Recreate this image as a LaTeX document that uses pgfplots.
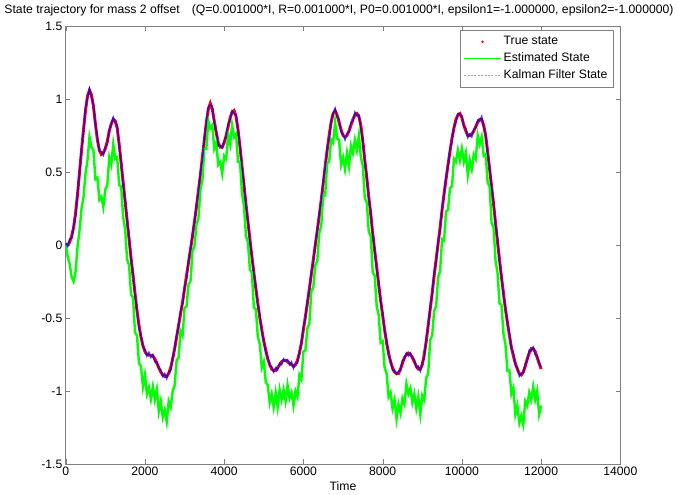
\documentclass[border=0pt]{standalone}
\usepackage{fontspec}
\setmainfont{Liberation Sans}
\usepackage{pgfplots}
\usepackage{pgfplotstable}
\pgfplotsset{compat=1.18}
\definecolor{kflight}{rgb}{0.6,0.6,1}

% x, true state, Kalman filter state, estimated state
\pgfplotstableread{
x t k e
0 0.00 0.015 0.01
50 0.00 -0.01 -0.08
100 0.02 0.04 -0.13
150 0.06 0.045 -0.22
200 0.12 0.13 -0.25
250 0.22 0.20 -0.18
300 0.35 0.36 -0.01
350 0.50 0.495 0.10
400 0.65 0.665 0.25
450 0.79 0.78 0.33
500 0.92 0.94 0.49
550 1.02 1.005 0.58
600 1.06 1.07 0.74
650 1.03 1.01 0.67
700 0.95 0.96 0.65
750 0.83 0.825 0.45
800 0.72 0.735 0.46
850 0.65 0.64 0.31
900 0.62 0.64 0.33
950 0.63 0.615 0.26
1000 0.66 0.67 0.38
1050 0.71 0.69 0.41
1100 0.78 0.79 0.60
1150 0.83 0.825 0.55
1200 0.86 0.875 0.69
1250 0.85 0.84 0.59
1300 0.80 0.82 0.60
1350 0.69 0.675 0.41
1400 0.56 0.57 0.40
1450 0.43 0.41 0.19
1500 0.30 0.31 0.11
1550 0.17 0.165 -0.10
1600 0.04 0.055 -0.14
1650 -0.09 -0.10 -0.34
1700 -0.21 -0.19 -0.36
1750 -0.33 -0.345 -0.60
1800 -0.45 -0.44 -0.62
1850 -0.55 -0.57 -0.81
1900 -0.63 -0.62 -0.83
1950 -0.69 -0.695 -0.97
2000 -0.73 -0.715 -0.89
2050 -0.75 -0.76 -1.02
2100 -0.755 -0.735 -0.975
2150 -0.755 -0.77 -1.055
2200 -0.76 -0.75 -0.97
2250 -0.78 -0.80 -1.06
2300 -0.81 -0.80 -0.99
2350 -0.84 -0.845 -1.14
2400 -0.87 -0.855 -1.07
2450 -0.89 -0.90 -1.18
2500 -0.90 -0.88 -1.13
2550 -0.90 -0.915 -1.21
2600 -0.88 -0.87 -1.07
2650 -0.84 -0.86 -1.11
2700 -0.78 -0.77 -1.00
2750 -0.71 -0.715 -0.96
2800 -0.63 -0.615 -0.79
2850 -0.55 -0.56 -0.77
2900 -0.47 -0.45 -0.59
2950 -0.39 -0.405 -0.62
3000 -0.30 -0.29 -0.43
3050 -0.21 -0.23 -0.42
3100 -0.12 -0.11 -0.27
3150 -0.03 -0.035 -0.25
3200 0.06 0.075 -0.04
3250 0.16 0.15 -0.01
3300 0.26 0.28 0.14
3350 0.37 0.355 0.18
3400 0.48 0.49 0.38
3450 0.60 0.58 0.44
3500 0.72 0.73 0.66
3550 0.84 0.835 0.66
3600 0.93 0.945 0.85
3650 0.97 0.96 0.80
3700 0.93 0.95 0.82
3750 0.85 0.835 0.66
3800 0.77 0.78 0.70
3850 0.70 0.68 0.55
3900 0.67 0.68 0.57
3950 0.67 0.665 0.49
4000 0.70 0.715 0.61
4050 0.75 0.74 0.59
4100 0.81 0.83 0.75
4150 0.87 0.855 0.69
4200 0.91 0.92 0.82
4250 0.92 0.90 0.74
4300 0.88 0.89 0.76
4350 0.79 0.785 0.57
4400 0.67 0.685 0.57
4450 0.54 0.53 0.35
4500 0.41 0.43 0.27
4550 0.28 0.265 0.06
4600 0.16 0.17 0.02
4650 0.04 0.02 -0.17
4700 -0.08 -0.07 -0.19
4750 -0.19 -0.195 -0.43
4800 -0.30 -0.285 -0.44
4850 -0.40 -0.41 -0.63
4900 -0.50 -0.48 -0.68
4950 -0.58 -0.595 -0.84
5000 -0.66 -0.65 -0.80
5050 -0.72 -0.74 -0.94
5100 -0.78 -0.77 -0.96
5150 -0.82 -0.825 -1.08
5200 -0.85 -0.835 -1.02
5250 -0.86 -0.87 -1.11
5300 -0.86 -0.84 -1.01
5350 -0.84 -0.855 -1.11
5400 -0.82 -0.81 -0.99
5450 -0.80 -0.82 -1.06
5500 -0.79 -0.78 -0.99
5550 -0.79 -0.795 -1.07
5600 -0.80 -0.785 -0.96
5650 -0.81 -0.82 -1.05
5700 -0.82 -0.80 -1.01
5750 -0.83 -0.845 -1.10
5800 -0.82 -0.81 -1.00
5850 -0.79 -0.81 -1.04
5900 -0.74 -0.73 -0.89
5950 -0.67 -0.675 -0.92
6000 -0.58 -0.565 -0.73
6050 -0.49 -0.50 -0.72
6100 -0.40 -0.38 -0.57
6150 -0.30 -0.315 -0.54
6200 -0.20 -0.19 -0.32
6250 -0.10 -0.12 -0.29
6300 0.00 0.01 -0.14
6350 0.10 0.095 -0.11
6400 0.20 0.215 0.08
6450 0.31 0.30 0.13
6500 0.42 0.44 0.34
6550 0.54 0.525 0.34
6600 0.65 0.66 0.56
6650 0.75 0.73 0.57
6700 0.84 0.85 0.72
6750 0.90 0.895 0.70
6800 0.92 0.935 0.84
6850 0.89 0.88 0.73
6900 0.84 0.86 0.72
6950 0.79 0.775 0.55
7000 0.75 0.76 0.60
7050 0.74 0.72 0.52
7100 0.75 0.76 0.63
7150 0.78 0.775 0.54
7200 0.82 0.835 0.68
7250 0.86 0.85 0.63
7300 0.89 0.91 0.72
7350 0.90 0.885 0.65
7400 0.88 0.89 0.75
7450 0.82 0.80 0.60
7500 0.71 0.72 0.54
7550 0.58 0.575 0.32
7600 0.46 0.475 0.29
7650 0.33 0.32 0.09
7700 0.21 0.23 0.06
7750 0.08 0.065 -0.19
7800 -0.04 -0.03 -0.21
7850 -0.15 -0.17 -0.42
7900 -0.27 -0.26 -0.48
7950 -0.38 -0.385 -0.67
8000 -0.48 -0.465 -0.66
8050 -0.58 -0.59 -0.84
8100 -0.67 -0.65 -0.88
8150 -0.74 -0.755 -1.04
8200 -0.80 -0.79 -1.01
8250 -0.84 -0.86 -1.12
8300 -0.87 -0.86 -1.06
8350 -0.88 -0.885 -1.19
8400 -0.88 -0.865 -1.09
8450 -0.85 -0.86 -1.15
8500 -0.81 -0.79 -1.05
8550 -0.77 -0.785 -1.09
8600 -0.75 -0.74 -0.95
8650 -0.74 -0.76 -1.02
8700 -0.75 -0.74 -0.98
8750 -0.77 -0.775 -1.08
8800 -0.80 -0.785 -1.02
8850 -0.83 -0.84 -1.12
8900 -0.85 -0.83 -1.04
8950 -0.85 -0.865 -1.16
9000 -0.82 -0.81 -1.03
9050 -0.75 -0.77 -1.06
9100 -0.66 -0.65 -0.91
9150 -0.55 -0.555 -0.88
9200 -0.44 -0.425 -0.65
9250 -0.33 -0.34 -0.62
9300 -0.21 -0.19 -0.45
9350 -0.10 -0.115 -0.42
9400 0.01 0.02 -0.22
9450 0.12 0.10 -0.18
9500 0.24 0.25 0.04
9550 0.35 0.345 0.03
9600 0.45 0.465 0.23
9650 0.55 0.54 0.24
9700 0.64 0.66 0.39
9750 0.73 0.715 0.40
9800 0.80 0.81 0.59
9850 0.86 0.84 0.57
9900 0.89 0.90 0.65
9950 0.90 0.895 0.58
10000 0.87 0.885 0.66
10050 0.82 0.81 0.57
10100 0.78 0.80 0.63
10150 0.75 0.735 0.48
10200 0.75 0.76 0.58
10250 0.76 0.74 0.52
10300 0.78 0.79 0.62
10350 0.81 0.805 0.59
10400 0.84 0.855 0.75
10450 0.86 0.85 0.69
10500 0.86 0.88 0.74
10550 0.82 0.805 0.61
10600 0.75 0.76 0.62
10650 0.64 0.62 0.43
10700 0.52 0.53 0.40
10750 0.40 0.395 0.15
10800 0.28 0.295 0.12
10850 0.15 0.14 -0.11
10900 0.02 0.04 -0.19
10950 -0.10 -0.115 -0.40
11000 -0.22 -0.21 -0.41
11050 -0.33 -0.35 -0.61
11100 -0.44 -0.43 -0.68
11150 -0.53 -0.535 -0.86
11200 -0.62 -0.605 -0.86
11250 -0.70 -0.71 -1.02
11300 -0.76 -0.74 -0.98
11350 -0.81 -0.825 -1.16
11400 -0.85 -0.84 -1.10
11450 -0.88 -0.90 -1.22
11500 -0.89 -0.88 -1.17
11550 -0.87 -0.875 -1.23
11600 -0.83 -0.815 -1.07
11650 -0.78 -0.79 -1.10
11700 -0.74 -0.72 -1.01
11750 -0.71 -0.725 -1.06
11800 -0.71 -0.70 -0.97
11850 -0.73 -0.75 -1.06
11900 -0.77 -0.76 -1.00
11950 -0.81 -0.815 -1.16
12000 -0.85 -0.835 -1.10
}\data

\begin{document}
\begin{tikzpicture}
\begin{axis}[
  scale only axis,
  width=414pt, height=327pt,
  font=\fontsize{9.1}{11}\selectfont,
  xmin=0, xmax=14000, ymin=-1.5, ymax=1.5,
  xtick={0,2000,...,14000},
  ytick={-1.5,-1,-0.5,0,0.5,1,1.5},
  scaled x ticks=false,
  /pgf/number format/1000 sep={},
  /pgf/number format/assume math mode=true,
  tick align=inside,
  major tick length=3.5pt,
  axis line style={gray},
  tick style={gray},
  xticklabel style={yshift=1pt},
  yticklabel style={xshift=1pt},
  title={State trajectory for mass 2 offset\quad(Q=0.001000*I, R=0.001000*I, P0=0.001000*I, epsilon1=-1.000000, epsilon2=-1.000000)},
  title style={yshift=-2pt, xshift=-3pt},
  xlabel={Time},
  xlabel style={yshift=3pt},
  legend style={at={(0.988,0.99)}, anchor=north east, draw=gray,
    font=\fontsize{9.1}{11}\selectfont, cells={anchor=west},
    row sep=0.5pt, inner sep=2.5pt},
  legend cell align=left,
]
\addplot[red, line width=2.2pt, forget plot] table[x=x, y=t] {\data};
\addplot[green, line width=1.8pt, forget plot] table[x=x, y=e] {\data};
\addplot[blue, line width=1.1pt, opacity=0.75, forget plot] table[x=x, y=k] {\data};
\addlegendimage{legend image code/.code={\fill[red] (0.475cm,0cm) circle (0.7pt);}}
\addlegendentry{True state}
\addlegendimage{legend image code/.code={\draw[green, line width=0.6pt] (0cm,0cm) -- (0.95cm,0cm);}}
\addlegendentry{Estimated State}
\addlegendimage{legend image code/.code={\draw[kflight, dash pattern=on 1.5pt off 1pt, line width=0.5pt] (0cm,0cm) -- (0.95cm,0cm);}}
\addlegendentry{Kalman Filter State}
\end{axis}
\end{tikzpicture}
\end{document}
